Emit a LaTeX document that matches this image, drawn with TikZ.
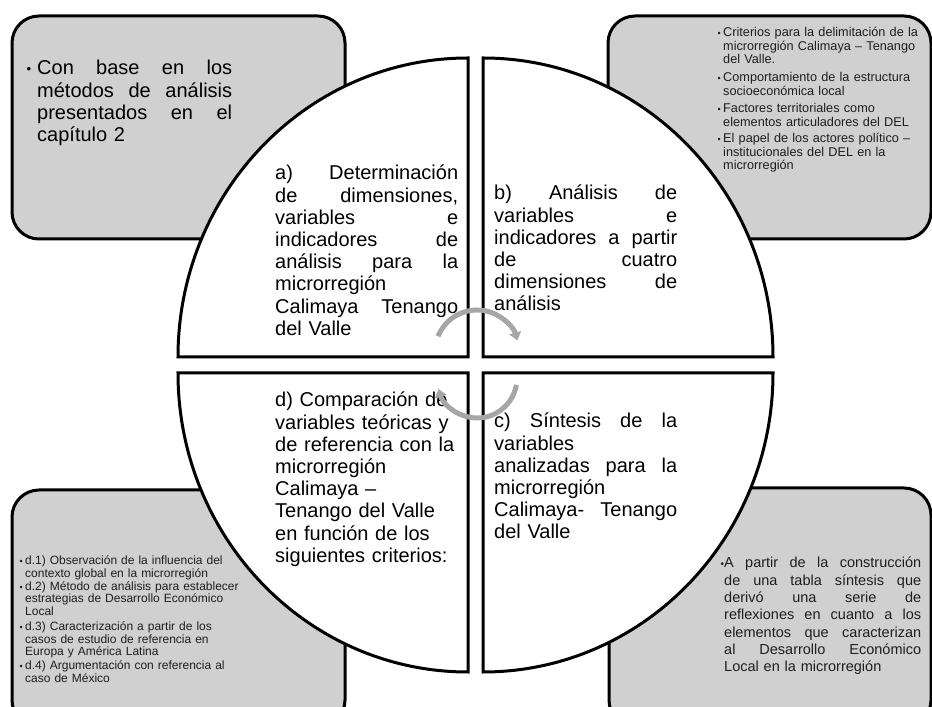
\documentclass[tikz,border=0pt]{standalone}
\usepackage{fontspec}
\setmainfont{Liberation Sans}
\usetikzlibrary{arrows.meta}
\definecolor{boxgray}{HTML}{D0D0D0}
\definecolor{arrgray}{HTML}{A6A6A6}
\definecolor{txtgray}{HTML}{1E1E1E}
\newlength\jw
\newcommand\J[1]{\leavevmode\hbox to\jw{\spaceskip=0.278em plus 1fil\relax#1}}
\newcommand\bulS{\llap{{\fontsize{9}{9}\selectfont\raisebox{0.5pt}{•}}\hspace{2.5pt}}}
\newcommand\bulL{\llap{{\fontsize{13}{13}\selectfont\raisebox{1pt}{•}}\hspace{6pt}}}
\newcommand\trfont{\fontsize{12.7}{13.4}\selectfont\spaceskip=2.2pt plus 1pt minus 0.5pt\relax}
\newcommand\blfont{\fontsize{12}{12.2}\selectfont\spaceskip=2pt plus 1pt minus 0.5pt\relax}
\tikzset{
  gbox/.style={draw=black, line width=3pt, fill=boxgray, rounded corners=27pt},
  quad/.style={draw=black, line width=3pt, fill=white},
  bigtxt/.style={font=\fontsize{20}{22.2}\selectfont, inner sep=0pt, anchor=base west, align=left},
  smalltr/.style={font=\trfont, text=txtgray, inner sep=0pt, anchor=base west, align=left, text width=230pt},
  smallbl/.style={font=\blfont, text=txtgray, inner sep=0pt, anchor=base west, align=left, text width=240pt},
  brtxt/.style={font=\fontsize{14.5}{17.3}\selectfont, text=txtgray, inner sep=0pt, anchor=base west, align=left, text width=197pt},
  cyc/.style={draw=arrgray, line width=5pt, -{Triangle[width=12pt,length=8pt]}}
}
\begin{document}
\begin{tikzpicture}[x=1pt,y=1pt]
\useasboundingbox (0,0) rectangle (932,707);
\clip (0,0) rectangle (932,707);
% grey boxes
\draw[gbox] (12,468) rectangle (345,691);
\draw[gbox] (608,468) rectangle (931,691);
\draw[gbox] (12,-20) rectangle (345,217);
\draw[gbox] (609,-20) rectangle (931,219);
% quadrants
\draw[quad] (468,350) -- (178,350) arc[start angle=180,end angle=90,x radius=290pt,y radius=299pt] -- cycle;
\draw[quad] (483,350) -- (483,649) arc[start angle=90,end angle=0,x radius=290pt,y radius=299pt] -- cycle;
\draw[quad] (483,334) -- (773,334) arc[start angle=0,end angle=-90,x radius=290pt,y radius=299pt] -- cycle;
\draw[quad] (468,334) -- (468,35) arc[start angle=270,end angle=180,x radius=290pt,y radius=299pt] -- cycle;
% quadrant texts
\node[bigtxt, text width=183pt] (ta) at (275,527) {\jw=183pt\relax\J{a) Determinación}\\ \J{de dimensiones,}\\ \J{variables e}\\ \J{indicadores de}\\ \J{análisis para la}\\ microrregión\\ \J{Calimaya Tenango}\\ del Valle};
\node[bigtxt, text width=183pt] (tb) at (494,507) {\jw=183pt\relax\J{b) Análisis de}\\ \J{variables e}\\ \J{indicadores a partir}\\ \J{de cuatro}\\ \J{dimensiones de}\\ análisis};
\node[bigtxt, text width=183pt] (tc) at (494,279) {\jw=183pt\relax\J{c) Síntesis de la}\\ variables\\ \J{analizadas para la}\\ microrregión\\ \J{Calimaya- Tenango}\\ del Valle};
\node[bigtxt, text width=200pt] (td) at (275,300) {d) Comparación de\\ variables teóricas y\\ de referencia con la\\ microrregión\\ Calimaya –\\ Tenango del Valle\\ en función de los\\ siguientes criterios:};
% box texts
\node[bigtxt, text width=195pt] (ttl) at (37,632) {\jw=195pt\relax\J{\bulL Con base en los}\\ \J{métodos de análisis}\\ \J{presentados en el}\\ capítulo 2};
\node[smalltr] (tr1) at (723,670) {\bulS Criterios para la delimitación de la\\ microrregión Calimaya – Tenango\\ del Valle.};
\node[smalltr] (tr2) at (723,625) {\bulS Comportamiento de la estructura\\ socioeconómica local};
\node[smalltr] (tr3) at (723,594) {\bulS Factores territoriales como\\ elementos articuladores del DEL};
\node[smalltr] (tr4) at (723,564) {\bulS El papel de los actores político –\\ institucionales del DEL en la\\ microrregión};
\node[smallbl] (bl1) at (25,142) {\bulS d.1) Observación de la influencia del\\ contexto global en la microrregión};
\node[smallbl] (bl2) at (25,116.3) {\bulS d.2) Método de análisis para establecer\\ estrategias de Desarrollo Económico\\ Local};
\node[smallbl] (bl3) at (25,76) {\bulS d.3) Caracterización a partir de los\\ casos de estudio de referencia en\\ Europa y América Latina};
\node[smallbl] (bl4) at (25,37) {\bulS d.4) Argumentación con referencia al\\ caso de México};
\node[brtxt] (tbr) at (724,139) {\jw=197pt\relax\J{\llap{\raisebox{0.5pt}{\fontsize{10}{10}\selectfont•}}A partir de la construcción}\\ \J{de una tabla síntesis que}\\ \J{derivó una serie de}\\ \J{reflexiones en cuanto a los}\\ \J{elementos que caracterizan}\\ \J{al Desarrollo Económico}\\ Local en la microrregión};
% cycle arrows
\coordinate (cu) at (477,355);
\coordinate (cl) at (477,329);
\draw[cyc] ([shift={(158:42pt)}]cu) arc[start angle=158,end angle=16,radius=42pt];
\draw[cyc] ([shift={(-10:40pt)}]cl) arc[start angle=-10,end angle=-164,radius=40pt];
\end{tikzpicture}
\end{document}
